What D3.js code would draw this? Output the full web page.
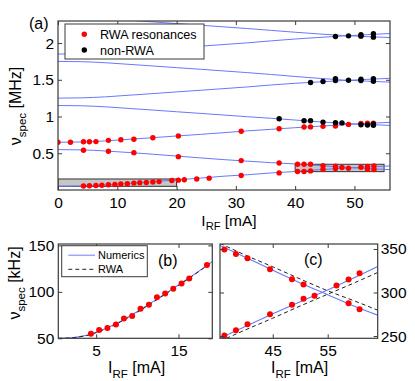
<!DOCTYPE html>
<html><head><meta charset="utf-8">
<script src="https://cdn.jsdelivr.net/npm/d3@7"></script>
<style>
body{margin:0;background:#fff}
svg{display:block}
text{font-family:"Liberation Sans",Arial,Helvetica,sans-serif;fill:#000}
</style>
</head><body>
<svg id="chart" width="415" height="381"></svg>
<script>
// ---------- Panel (a) data ----------
const aXTicks = [0, 10, 20, 30, 40, 50];
const aYTicks = [0.5, 1, 1.5, 2];
const aCurrent = [0, 4, 8, 12, 16, 20, 24, 28, 32, 36, 40, 44, 48, 52, 56];
const aLine1 = [0.650, 0.654, 0.668, 0.690, 0.712, 0.735, 0.757, 0.780, 0.805, 0.826, 0.848, 0.868, 0.887, 0.905, 0.921];
const aLine2 = [0.550, 0.546, 0.531, 0.510, 0.487, 0.462, 0.437, 0.413, 0.392, 0.372, 0.355, 0.333, 0.309, 0.292, 0.277];
const aLine3 = [0.050, 0.054, 0.069, 0.090, 0.113, 0.137, 0.162, 0.188, 0.208, 0.232, 0.252, 0.276, 0.296, 0.313, 0.327];
const aLine4 = [1.150, 1.146, 1.132, 1.110, 1.088, 1.065, 1.043, 1.020, 0.997, 0.976, 0.952, 0.929, 0.907, 0.892, 0.879];
const aLine5 = [1.250, 1.254, 1.268, 1.290, 1.312, 1.335, 1.357, 1.380, 1.403, 1.430, 1.452, 1.471, 1.489, 1.505, 1.520];
const aLine6 = [1.750, 1.746, 1.732, 1.710, 1.688, 1.665, 1.643, 1.620, 1.597, 1.572, 1.545, 1.520, 1.497, 1.482, 1.468];
const aLine7 = [1.850, 1.854, 1.868, 1.890, 1.912, 1.935, 1.957, 1.980, 2.003, 2.030, 2.055, 2.076, 2.096, 2.113, 2.130];
const aLine8 = [2.350, 2.346, 2.332, 2.310, 2.288, 2.265, 2.243, 2.220, 2.197, 2.172, 2.147, 2.124, 2.103, 2.088, 2.075];

const aRedI = [0, 2.1, 4.3, 5.3, 6.4, 8.5, 10.6, 12.8, 16, 20.3, 30.9, 37.3, 41.5, 42.6, 44.7, 46.8, 49, 51.1, 52.2, 53.2,
  4.3, 8.5, 12.8, 20.3, 30.9, 37.3, 40.4, 41.5, 42.6, 44.7, 46.8, 47.9, 49, 51.1, 52.2, 53.3,
  4.3, 5.3, 6.4, 7.4, 8.5, 9.6, 10.6, 11.7, 12.8, 13.8, 14.9, 16, 17.05, 19.2, 20.3, 21.3, 23.4, 25.5, 30.9, 37.3,
  40.4, 41.5, 42.6, 44.7, 46.8, 52.2, 53.3];
const aRedV = [0.649, 0.649, 0.656, 0.657, 0.659, 0.676, 0.684, 0.690, 0.711, 0.734, 0.800, 0.833, 0.857, 0.859, 0.866, 0.872, 0.893, 0.905, 0.910, 0.910,
  0.540, 0.527, 0.508, 0.454, 0.400, 0.368, 0.351, 0.351, 0.351, 0.332, 0.324, 0.306, 0.297, 0.310, 0.319, 0.328,
  0.055, 0.058, 0.061, 0.065, 0.071, 0.074, 0.082, 0.086, 0.094, 0.098, 0.103, 0.109, 0.114, 0.129, 0.134, 0.139, 0.150, 0.161, 0.197, 0.233,
  0.251, 0.251, 0.260, 0.283, 0.291, 0.283, 0.278];
const aBlackI = [37.3, 41.5, 42.6, 44.7, 46.8, 47.9, 51.1, 52.2, 53.2, 53.2,
  42.6, 44.7, 46.8, 46.8, 49, 51.1, 51.1, 53.2, 53.2,
  46.8, 49, 51.1, 51.1, 53.2, 53.2];
const aBlackV = [0.969, 0.942, 0.942, 0.924, 0.916, 0.913, 0.887, 0.885, 0.882, 0.898,
  1.462, 1.476, 1.516, 1.489, 1.494, 1.507, 1.489, 1.516, 1.480,
  2.089, 2.098, 2.112, 2.094, 2.126, 2.080];
const aBoxes = [[0, 20, 0.05, 0.15], [40, 55, 0.25, 0.35]];

// ---------- Panel (b) data ----------
const bXTicks = [5, 15];
const bYTicks = [50, 100, 150];
const bCurveI = [0.4, 1, 2, 3, 4, 5, 6, 7, 8, 9, 10, 11, 12, 13, 14, 15, 16, 17, 18, 19.1];
const bNumerics = [50, 50.1, 50.6, 51.8, 53.6, 56.5, 60, 64, 68.5, 73.5, 78.8, 84.3, 90, 95.8, 101.6, 107.4, 113.3, 119.3, 125.5, 132.5];
const bRWA = [50, 50.1, 50.5, 51.6, 53.3, 56.1, 59.5, 63.4, 67.9, 72.9, 78.2, 83.7, 89.4, 95.2, 101.1, 107, 113, 119, 125.3, 132.3];
const bRedI = [4.36, 5.36, 6.37, 7.4, 8.37, 9.37, 10.38, 11.4, 12.38, 13.38, 14.36, 15.37, 16.3, 18.45];
const bRedV = [54.9, 58.8, 61, 64.9, 71.3, 74, 81.9, 86.2, 94.3, 98.2, 103.2, 109.1, 114.5, 129];

// ---------- Panel (c) data ----------
const cXTicks = [45, 55];
const cYTicks = [250, 300, 350];
const cCurveI = [35.4, 40, 45, 50, 55, 60, 64.1];
const cNumUp = [247.5, 261, 275.5, 289.5, 303, 317.5, 330];
const cNumDown = [354, 340.5, 325.5, 311, 297.5, 284, 274];
const cRwaUp = [244, 257, 270.5, 284.5, 298, 311.5, 323];
const cRwaDown = [356.5, 343, 329.5, 315.5, 302, 290, 279.7];
const cRedI = [36.2, 38.3, 40.4, 44.5, 48.5, 50.6, 58.8, 60.8,
  36.2, 38.3, 40.4, 44.5, 48.5, 50.6, 52.6, 56.6, 58.8, 60.8];
const cRedV = [349.3, 344.2, 339.2, 326.7, 315.1, 309.3, 287.7, 280.7,
  250.5, 256.6, 263.6, 274.9, 286, 292.7, 296.2, 308.1, 314.8, 322.1];

// ---------- drawing ----------
const BLUE = "#6878ff";
const FRAME = "#3a3a3a";
const TICKFONT = 15.5;
const svg = d3.select("#chart");
const defs = svg.append("defs");

function panel(id, xs, ys, xt, yt, yRight) {
  const [x0, x1] = xs.range(), [y0, y1] = ys.range();
  defs.append("clipPath").attr("id", "clip" + id)
    .append("rect").attr("x", x0).attr("y", y1).attr("width", x1 - x0).attr("height", y0 - y1);
  const g = svg.append("g");
  g.append("rect").attr("x", x0).attr("y", y1).attr("width", x1 - x0).attr("height", y0 - y1).attr("fill", "#fff");
  const plot = g.append("g").attr("clip-path", `url(#clip${id})`);
  const axes = g.append("g");
  const style = sel => {
    sel.select(".domain").remove();
    sel.selectAll("line").attr("stroke", FRAME);
    sel.selectAll("text").attr("font-size", TICKFONT).attr("font-family", '"Liberation Sans",Arial,sans-serif').attr("fill", "#000");
  };
  axes.append("g").attr("transform", `translate(0,${y0})`)
    .call(d3.axisBottom(xs).tickValues(xt).tickSize(-4).tickSizeOuter(0).tickPadding(7).tickFormat(d3.format("~g"))).call(style);
  axes.append("g").attr("transform", `translate(0,${y1})`)
    .call(d3.axisTop(xs).tickValues(xt).tickSize(-4).tickSizeOuter(0).tickFormat("")).call(style);
  axes.append("g").attr("transform", `translate(${x0},0)`)
    .call(d3.axisLeft(ys).tickValues(yt).tickSize(-4).tickSizeOuter(0).tickPadding(4).tickFormat(yRight ? "" : d3.format("~g"))).call(style);
  axes.append("g").attr("transform", `translate(${x1},0)`)
    .call(d3.axisRight(ys).tickValues(yt).tickSize(-4).tickSizeOuter(0).tickPadding(3).tickFormat(yRight ? d3.format("~g") : "")).call(style);
  g.append("rect").attr("x", x0).attr("y", y1).attr("width", x1 - x0).attr("height", y0 - y1)
    .attr("fill", "none").attr("stroke", FRAME).attr("stroke-width", 1.2);
  return { g, plot };
}

function curve(plot, xs, ys, X, Y, color, dash, w) {
  const line = d3.line().x(d => xs(d[0])).y(d => ys(d[1])).curve(d3.curveMonotoneX);
  plot.append("path").datum(d3.zip(X, Y)).attr("d", line)
    .attr("fill", "none").attr("stroke", color).attr("stroke-width", w || 1)
    .attr("stroke-dasharray", dash || null);
}
function dots(plot, xs, ys, X, Y, color, r) {
  plot.selectAll(null).data(d3.zip(X, Y)).join("circle")
    .attr("cx", d => xs(d[0])).attr("cy", d => ys(d[1])).attr("r", r).attr("fill", color);
}
function ylabel(x, y, unit, size) {
  const t = svg.append("text").attr("transform", `translate(${x},${y}) rotate(-90)`)
    .attr("text-anchor", "middle").attr("font-size", size);
  t.append("tspan").text("ν");
  t.append("tspan").attr("font-size", size * 0.72).attr("dy", size * 0.3).text("spec");
  t.append("tspan").attr("dy", -size * 0.3).text(" [" + unit + "]");
}
function xlabel(x, y, size) {
  const t = svg.append("text").attr("x", x).attr("y", y).attr("text-anchor", "middle").attr("font-size", size);
  t.append("tspan").text("I");
  t.append("tspan").attr("font-size", size * 0.72).attr("dy", size * 0.3).text("RF");
  t.append("tspan").attr("dy", -size * 0.3).text(" [mA]");
}

// Panel (a)
const ax = d3.scaleLinear([0, 56], [58, 390]);
const ay = d3.scaleLinear([0, 2.3], [190, 21]);
const pa = panel("a", ax, ay, aXTicks, aYTicks, false);
pa.plot.selectAll(null).data(aBoxes).join("rect")
  .attr("x", d => ax(d[0])).attr("y", d => ay(d[3]))
  .attr("width", d => ax(d[1]) - ax(d[0])).attr("height", d => ay(d[2]) - ay(d[3]))
  .attr("fill", "#c6c6c6").attr("stroke", "#333").attr("stroke-width", 1);
[aLine1, aLine2, aLine3, aLine4, aLine5, aLine6, aLine7, aLine8].forEach(L => curve(pa.plot, ax, ay, aCurrent, L, BLUE));
dots(pa.plot, ax, ay, aRedI, aRedV, "#ff0000", 2.7);
dots(pa.plot, ax, ay, aBlackI, aBlackV, "#000", 2.7);
// legend (a)
const la = svg.append("g");
la.append("rect").attr("x", 65).attr("y", 24).attr("width", 139).attr("height", 35).attr("fill", "#fff").attr("stroke", FRAME);
la.append("circle").attr("cx", 84.3).attr("cy", 34.3).attr("r", 2.7).attr("fill", "#ff0000");
la.append("circle").attr("cx", 84.3).attr("cy", 50).attr("r", 2.7).attr("fill", "#000");
la.append("text").attr("x", 100).attr("y", 38.8).attr("font-size", 12.6).text("RWA resonances");
la.append("text").attr("x", 100).attr("y", 54.5).attr("font-size", 12.6).text("non-RWA");
svg.append("text").attr("x", 29).attr("y", 28.5).attr("font-size", 16).text("(a)");
ylabel(21, 106, "MHz", 16);
xlabel(229, 225.8, 15.5);

// Panel (b)
const bx = d3.scaleLinear([0.4, 19.1], [58.3, 212.3]);
const by = d3.scaleLinear([50, 151.5], [338.3, 244]);
const pb = panel("b", bx, by, bXTicks, bYTicks, false);
curve(pb.plot, bx, by, bCurveI, bNumerics, BLUE, null, 1.1);
curve(pb.plot, bx, by, bCurveI, bRWA, "#222", "4,3", 1);
dots(pb.plot, bx, by, bRedI, bRedV, "#ff0000", 3);
const lb = svg.append("g");
lb.append("rect").attr("x", 61.7).attr("y", 245.7).attr("width", 85.6).attr("height", 31).attr("fill", "#fff").attr("stroke", FRAME);
lb.append("line").attr("x1", 68.3).attr("x2", 95).attr("y1", 255.3).attr("y2", 255.3).attr("stroke", "#9aa6ff").attr("stroke-width", 1.5);
lb.append("line").attr("x1", 68.3).attr("x2", 95).attr("y1", 269.3).attr("y2", 269.3).attr("stroke", "#222").attr("stroke-dasharray", "4,3");
lb.append("text").attr("x", 98).attr("y", 259.3).attr("font-size", 11).text("Numerics");
lb.append("text").attr("x", 98).attr("y", 273.3).attr("font-size", 11).text("RWA");
svg.append("text").attr("x", 158).attr("y", 265.5).attr("font-size", 16).text("(b)");
ylabel(20, 283, "kHz", 16);
xlabel(136.5, 373.3, 16);

// Panel (c)
const cx = d3.scaleLinear([35.4, 64.1], [220, 377.7]);
const cy = d3.scaleLinear([247.4, 355.7], [338.3, 244]);
const pc = panel("c", cx, cy, cXTicks, cYTicks, true);
curve(pc.plot, cx, cy, cCurveI, cNumUp, BLUE, null, 1.1);
curve(pc.plot, cx, cy, cCurveI, cNumDown, BLUE, null, 1.1);
curve(pc.plot, cx, cy, cCurveI, cRwaUp, "#222", "4,3", 1);
curve(pc.plot, cx, cy, cCurveI, cRwaDown, "#222", "4,3", 1);
dots(pc.plot, cx, cy, cRedI, cRedV, "#ff0000", 3);
svg.append("text").attr("x", 304).attr("y", 264.5).attr("font-size", 16).text("(c)");
xlabel(299.5, 373.3, 16);
</script>
</body></html>
